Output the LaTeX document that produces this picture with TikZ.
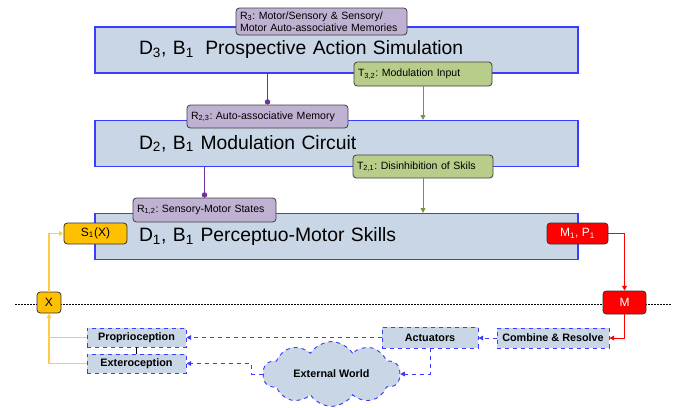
\documentclass[tikz,border=0pt]{standalone}
\usepackage{fontspec}
\setmainfont{Liberation Sans}
\usetikzlibrary{arrows.meta,shapes.symbols}

\definecolor{boxfill}{HTML}{C9D6E5}
\definecolor{boxline}{HTML}{3C3CFF}
\definecolor{memfill}{HTML}{BFB1D1}
\definecolor{memline}{HTML}{7030A0}
\definecolor{modfill}{HTML}{B7CD89}
\definecolor{modline}{HTML}{77933C}
\definecolor{sigfill}{HTML}{FFC000}
\definecolor{sigline}{HTML}{FFCC44}
\definecolor{motfill}{HTML}{FF0000}

\tikzset{
  bigbox/.style={draw=boxline, fill=boxfill, line width=0.9pt, minimum height=34.5pt,
    text width=296.25pt, inner xsep=33pt, align=left, font=\fontsize{14.5}{16}\selectfont},
  tagbox/.style={draw=black!75, rounded corners=2.5pt, line width=0.6pt, inner xsep=3pt,
    inner ysep=0pt, align=left, font=\frenchspacing\fontsize{7.9}{9.2}\selectfont},
  membox/.style={tagbox, fill=memfill},
  modbox/.style={tagbox, fill=modfill},
  sigbox/.style={draw=black!80, fill=sigfill, rounded corners=2.5pt, line width=0.6pt,
    inner sep=0pt, font=\fontsize{9}{10}\selectfont},
  motbox/.style={sigbox, fill=motfill, text=white},
  envbox/.style={draw=boxline, fill=boxfill, dashed, line width=0.7pt, inner sep=0pt,
    font=\bfseries\fontsize{8.1}{9.5}\selectfont},
  tip/.style={-{Triangle[length=3.5pt,width=3.5pt]}},
  memwire/.style={draw=memline, line width=0.7pt, -{Circle[length=4pt]}, fill=memline},
  modwire/.style={draw=modline, line width=0.7pt, tip, fill=modline},
  motwire/.style={draw=red, line width=0.7pt, tip},
  sigwire/.style={draw=sigline, line width=0.9pt},
  envwire/.style={draw=boxline, dashed, line width=0.7pt, tip}
}

\begin{document}
\begin{tikzpicture}[x=0.75pt, y=-0.75pt]
\useasboundingbox (0,0) rectangle (673,407);

% border line between brain and world
\draw[line width=0.5pt, dash pattern=on 1.5pt off 0.75pt] (15,304) -- (672,304);

% the three levels
\node[bigbox] (d3) at (336.5,50) {D\textsubscript{3}, B\textsubscript{1}\hspace{0.25em} Prospective Action Simulation};
\node[bigbox] (d2) at (336.5,143.5) {D\textsubscript{2}, B\textsubscript{1} Modulation Circuit};
\node[bigbox] (d1) at (336.5,236.5) {D\textsubscript{1}, B\textsubscript{1} Perceptuo-Motor Skills};

\node[membox, text width=122.25pt, minimum height=20.25pt] (r3) at (321.5,21.5)
  {R\textsubscript{3}: Motor/Sensory \& Sensory/\\Motor Auto-associative Memories};
\node[modbox, text width=97.5pt, minimum height=18pt] (t32) at (423,74)
  {T\textsubscript{3,2}: Modulation Input};
\node[membox, text width=114.75pt, minimum height=17.25pt] (r23) at (267.5,116.5)
  {R\textsubscript{2,3}: Auto-associative Memory};
\node[modbox, text width=99pt, minimum height=17.25pt] (t21) at (423,166.5)
  {T\textsubscript{2,1}: Disinhibition of Skils};
\node[membox, text width=101.25pt, minimum height=18pt] (r12) at (204.5,210)
  {R\textsubscript{1,2}: Sensory-Motor States};

\node[sigbox, minimum width=47.25pt, minimum height=15.75pt] (s1x) at (95.5,233.5) {S\textsubscript{1}(X)};
\node[motbox, minimum width=45.75pt, minimum height=15.75pt] (m1p1) at (577.5,233.5) {M\textsubscript{1}, P\textsubscript{1}};
\node[motbox, minimum width=32.25pt, minimum height=17.25pt] (m) at (624.5,302.5) {M};
\node[sigbox, minimum width=18pt, minimum height=15.75pt] (x) at (49,302.5) {X};

% body and environment
\node[envbox, minimum width=84pt, minimum height=15pt] (comb) at (553,338) {Combine \& Resolve};
\node[envbox, minimum width=72pt, minimum height=15.75pt] (act) at (430,337.5) {Actuators};
\node[envbox, minimum width=74.25pt, minimum height=14.25pt] (prop) at (136.5,337.5) {Proprioception};
\node[envbox, minimum width=74.25pt, minimum height=14.25pt] (ext) at (136.5,363.5) {Exteroception};
\node[envbox, cloud, cloud puffs=10, cloud puff arc=115, aspect=2.2,
  minimum width=102.75pt, minimum height=47.25pt] (world) at (331.5,374) {External World};

% connectors
\draw[memwire] (d3.south -| r23.north) -- (r23.north);
\draw[memwire] (d2.south -| r12.north) -- (r12.north);
\draw[modwire] (t32.south) -- (t32.south |- d2.north);
\draw[modwire] (t21.south) -- (t21.south |- d1.north);

\draw[motwire] (m1p1.east) -| (m.north);
\draw[motwire] (m.south) |- (comb.east);

\draw[envwire] (comb.west) -- (comb.west -| act.east);
\draw[envwire] (act.west) -- (act.west -| prop.east);
\draw[envwire] (act.south) |- (world.east);
\draw[envwire] (world.west) -- ++(-11,0) |- (ext.east);
\draw[line width=0.6pt] (prop.south) -- (ext.north);

\draw[sigwire] (prop.west) -- (prop.west -| x.south);
\draw[sigwire, tip] (ext.west) -| (x.south);
\draw[sigwire, tip] (x.north) |- (s1x.west);
\end{tikzpicture}
\end{document}
